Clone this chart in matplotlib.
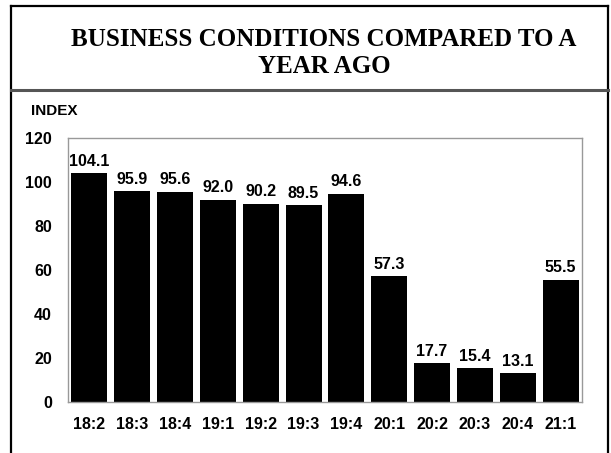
import numpy as np
import matplotlib.pyplot as plt
from matplotlib.lines import Line2D

# data
quarters = ['18:2', '18:3', '18:4', '19:1', '19:2', '19:3', '19:4',
            '20:1', '20:2', '20:3', '20:4', '21:1']
index_values = [104.1, 95.9, 95.6, 92.0, 90.2, 89.5, 94.6,
                57.3, 17.7, 15.4, 13.1, 55.5]
y_ticks = [0, 20, 40, 60, 80, 100, 120]

W, H = 611, 453
fig = plt.figure(figsize=(W/100, H/100), dpi=100)

sans = 'Liberation Sans'
serif = 'Liberation Serif'
fs = 11.5

# outer frame (open at the bottom)
def fline(xs, ys, **kw):
    fig.add_artist(Line2D([v/W for v in xs], [1 - v/H for v in ys],
                          transform=fig.transFigure, **kw))

fline([11, 11], [6, H], color='black', lw=1.6)
fline([608, 608], [6, H], color='black', lw=1.6)
fline([11, 608], [6, 6], color='black', lw=1.6)
fline([11, 608], [90, 90], color='#555555', lw=2.2)

# title
fig.text(324/W, 1-46/H, 'BUSINESS CONDITIONS COMPARED TO A', ha='center', va='baseline',
         family=serif, weight='bold', fontsize=18)
fig.text(324/W, 1-73/H, 'YEAR AGO', ha='center', va='baseline',
         family=serif, weight='bold', fontsize=18)

fig.text(31/W, 1-115/H, 'INDEX', ha='left', va='baseline', family=sans, weight='bold', fontsize=11)

ax = fig.add_axes([68/W, (H-402)/H, 514/W, 264/H])
x = np.arange(len(quarters))
bars = ax.bar(x, index_values, width=0.84, color='black')
for xi, v in zip(x, index_values):
    ax.text(xi, v + 2.0, '%.1f' % v, ha='center', va='bottom',
            family=sans, weight='bold', fontsize=fs)

ax.set_xlim(-0.5, len(quarters) - 0.5)
ax.set_ylim(0, 120)
ax.set_yticks(y_ticks)
ax.set_xticks(x)
ax.set_xticklabels(quarters)
for lab in ax.get_xticklabels() + ax.get_yticklabels():
    lab.set_family(sans)
    lab.set_weight('bold')
    lab.set_fontsize(fs)
ax.tick_params(axis='both', length=0)
ax.tick_params(axis='y', pad=11.5)
ax.tick_params(axis='x', pad=10.5)
for s in ax.spines.values():
    s.set_color('#999999')
    s.set_linewidth(1)

plt.savefig('out.png', dpi=100)
